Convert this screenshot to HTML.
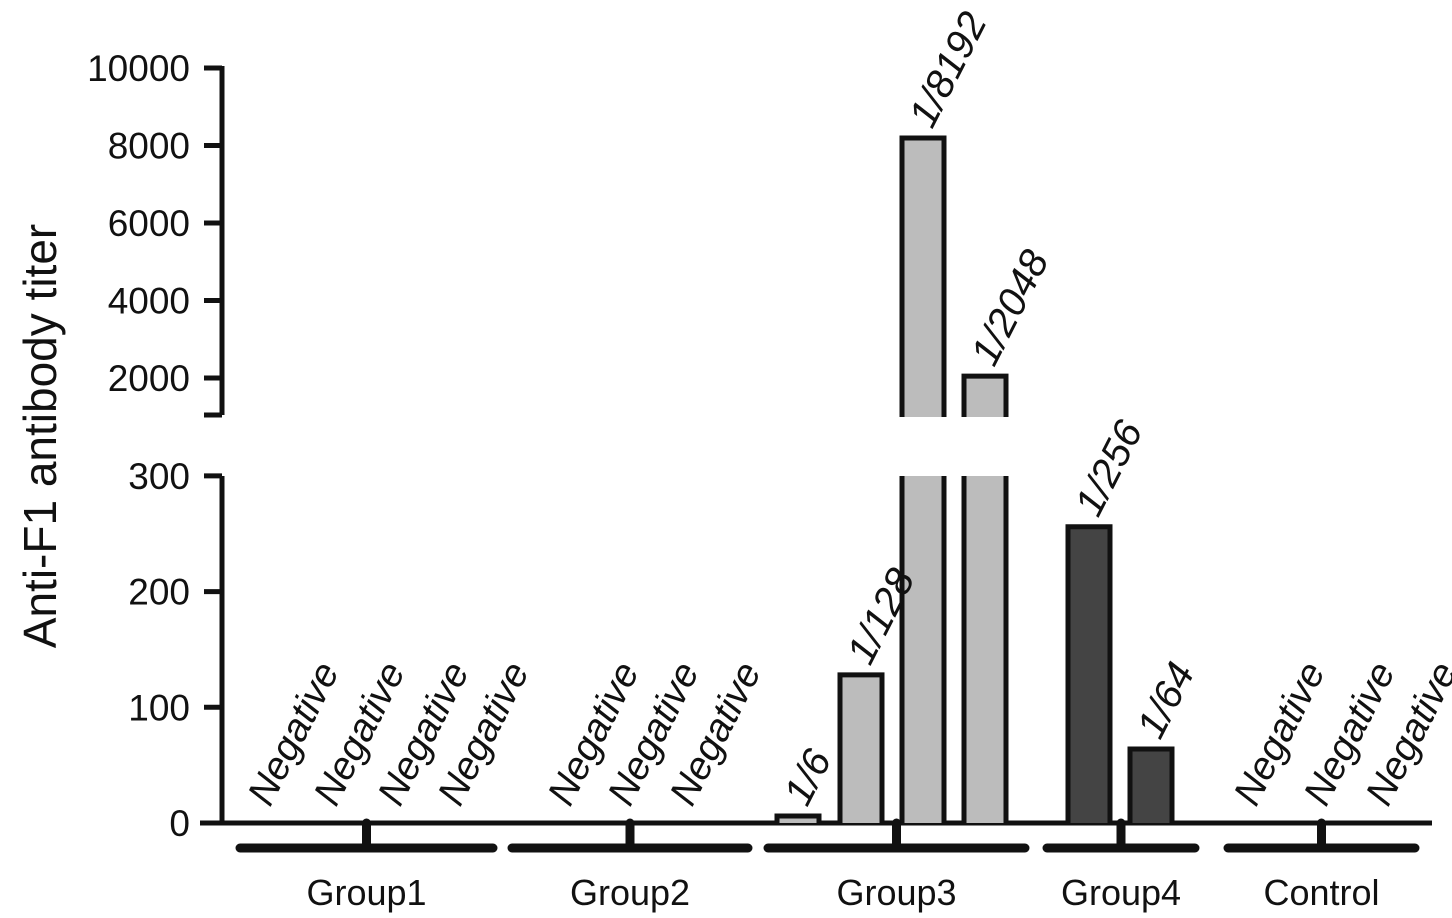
<!DOCTYPE html>
<html><head><meta charset="utf-8"><style>
body{margin:0;background:#fff}
svg{display:block;font-family:"Liberation Sans",sans-serif}
</style></head><body>
<svg id="chart" width="1452" height="918" viewBox="0 0 1452 918"></svg>
<script>
const groups=["Group1","Group2","Group3","Group4","Control"];
const groupSpan=[[240,493],[512,748],[768,1025],[1047,1195],[1228,1415]];
const barLabels=["1/6","1/128","1/8192","1/2048","1/256","1/64"];
const barValues=[6,128,8192,2048,256,64];
const barGroup=[2,2,2,2,3,3];
const barX=[777,840,902,964,1068,1130];
const negX=[262,328,392,452,562,622,684,1248,1318,1380];
const lowTicks=[0,100,200,300];
const highTicks=[2000,4000,6000,8000,10000];
const NS="http://www.w3.org/2000/svg";
const svg=document.getElementById('chart');
function yLow(v){return 823-v*1.157;}
function yHigh(v){return 378-(v-2000)*0.03875;}
function mk(t,a,txt){const e=document.createElementNS(NS,t);for(const k in a)e.setAttribute(k,a[k]);if(txt!==undefined)e.textContent=txt;svg.appendChild(e);return e;}
let ax=mk('path',{d:'M222 823V476M222 415V66',stroke:'#111','stroke-width':5,fill:'none'});


lowTicks.forEach(v=>{const y=yLow(v);
 let t=mk('line',{x1:204,x2:222,y1:y,y2:y,stroke:'#111','stroke-width':5});
 
 
 let l=mk('text',{x:190,y:y+13,'text-anchor':'end','font-size':37,fill:'#111'},v);
 
 });
highTicks.forEach(v=>{const y=yHigh(v);
 let t=mk('line',{x1:204,x2:222,y1:y,y2:y,stroke:'#111','stroke-width':5});
 
 
 let l=mk('text',{x:190,y:y+13,'text-anchor':'end','font-size':37,fill:'#111'},v);
 
 });
let bt=mk('line',{x1:204,x2:222,y1:415,y2:415,stroke:'#111','stroke-width':5});


let yt=mk('text',{x:0,y:0,transform:'translate(56,436) rotate(-90)','text-anchor':'middle','font-size':46,fill:'#111'},'Anti-F1 antibody titer');


let bl=mk('line',{x1:200,x2:1432,y1:823,y2:823,stroke:'#111','stroke-width':5});


barValues.forEach((v,i)=>{
 const x=barX[i],w=42,fill=barGroup[i]===3?'#444':'#bcbcbc';
 let p;
 if(v<=300){p='M'+x+' 823V'+yLow(v)+'H'+(x+w)+'V823';}
 else{p='M'+x+' 823V476M'+(x+w)+' 823V476M'+x+' 417V'+yHigh(v)+'H'+(x+w)+'V417';}
 let g=document.createElementNS(NS,'g');svg.appendChild(g);
 
 
 if(v<=300){const r=document.createElementNS(NS,'rect');r.setAttribute('x',x);r.setAttribute('y',yLow(v));r.setAttribute('width',w);r.setAttribute('height',823-yLow(v));r.setAttribute('fill',fill);g.appendChild(r);}
 else{[[476,823],[yHigh(v),417]].forEach(s=>{const r=document.createElementNS(NS,'rect');r.setAttribute('x',x);r.setAttribute('y',s[0]);r.setAttribute('width',w);r.setAttribute('height',s[1]-s[0]);r.setAttribute('fill',fill);g.appendChild(r);});}
 const pa=document.createElementNS(NS,'path');pa.setAttribute('d',p);pa.setAttribute('fill','none');pa.setAttribute('stroke','#111');pa.setAttribute('stroke-width',5);g.appendChild(pa);
});
barValues.forEach((v,i)=>{
 const x=barX[i];
 const top=v<=300?yLow(v):yHigh(v);
 let l=mk('text',{x:0,y:0,transform:'translate('+(x+30)+','+(top-8)+') rotate(-63)','font-size':40,'font-style':'italic',fill:'#111'},barLabels[i]);
 
 
});
negX.forEach(x=>{
 let l=mk('text',{x:0,y:0,transform:'translate('+(x+8)+',808) rotate(-63)','font-size':39,'font-style':'italic',fill:'#111'},'Negative');
 
 
});
groups.forEach((g,i)=>{
 const [a,b]=groupSpan[i],m=(a+b)/2;
 let br=mk('path',{d:'M'+a+' 848H'+b+'M'+m+' 823V848',stroke:'#111','stroke-width':9,'stroke-linecap':'round',fill:'none'});
 
 
 let l=mk('text',{x:m,y:905,'text-anchor':'middle','font-size':36,fill:'#111'},g);
 
 
});
</script>
</body></html>
